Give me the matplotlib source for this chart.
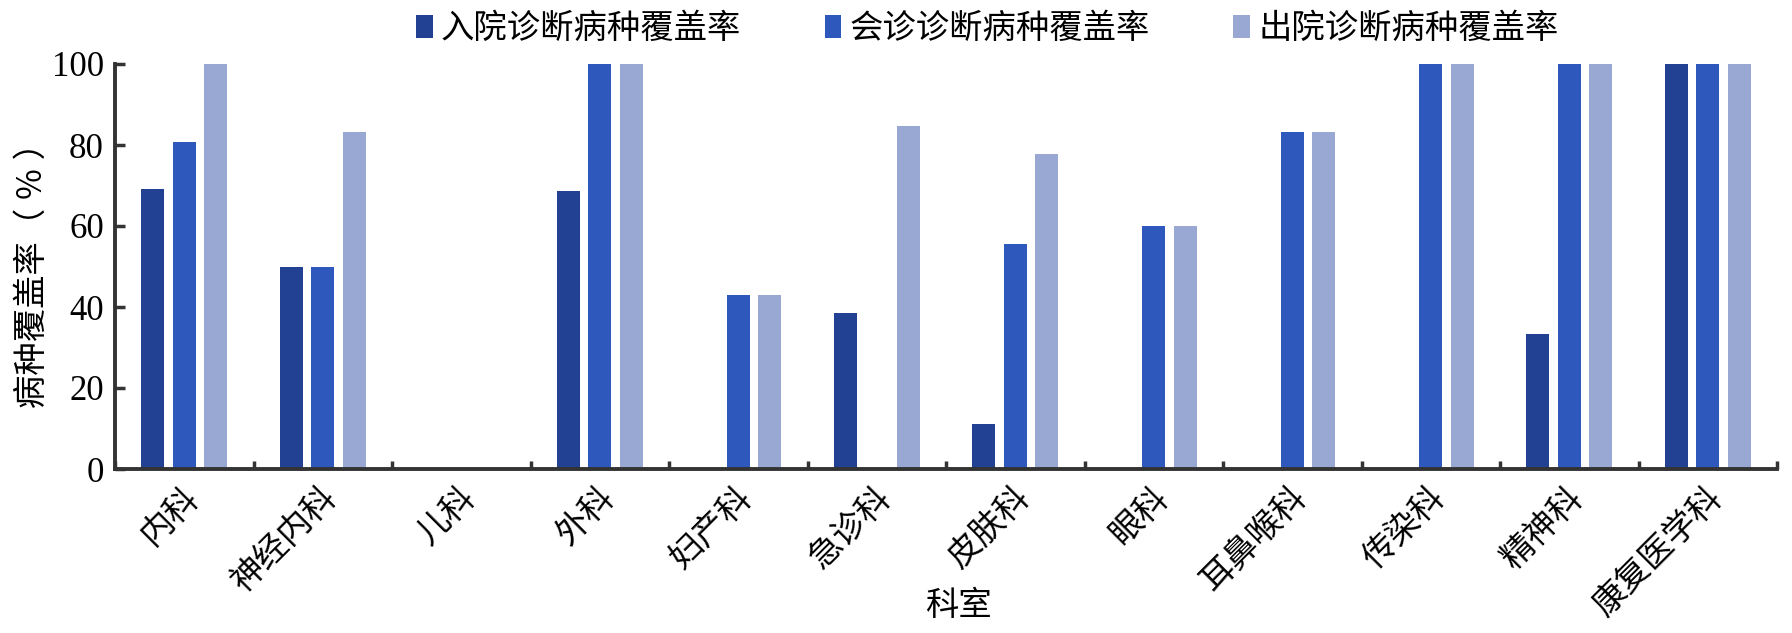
import numpy as np
import matplotlib
matplotlib.use('Agg')
import matplotlib.pyplot as plt
import matplotlib.transforms as mtransforms

plt.rcParams['font.family'] = ['Noto Sans CJK SC', 'DejaVu Sans']

# 数据
departments = ['内科', '神经内科', '儿科', '外科', '妇产科', '急诊科',
               '皮肤科', '眼科', '耳鼻喉科', '传染科', '精神科', '康复医学科']
admission = [69.2, 50.0, 0, 68.6, 0, 38.5, 11.1, 0, 0, 0, 33.3, 100]
consult = [80.8, 50.0, 0, 100, 42.9, 0, 55.6, 60.0, 83.3, 100, 100, 100]
discharge = [100, 83.3, 0, 100, 42.9, 84.6, 77.8, 60.0, 83.3, 100, 100, 100]
series_names = ['入院诊断病种覆盖率', '会诊诊断病种覆盖率', '出院诊断病种覆盖率']
colors = ['#234193', '#2e58bb', '#99a7d3']

fig = plt.figure(figsize=(17.92, 6.33), dpi=100)
ax = fig.add_axes([115 / 1792, 1 - 469 / 633, 1662 / 1792, (469 - 64) / 633])

x = np.arange(len(departments))
step = 0.227
width = 0.166
for k, vals in enumerate([admission, consult, discharge]):
    ax.bar(x + (k - 1) * step, vals, width=width, color=colors[k],
           label=series_names[k], zorder=2)

ax.set_xlim(-0.5, len(departments) - 0.5)
ax.set_ylim(0, 100)

for s in ['top', 'right']:
    ax.spines[s].set_visible(False)
for s in ['left', 'bottom']:
    ax.spines[s].set_linewidth(2.8)
    ax.spines[s].set_color('#333333')
    ax.spines[s].set_zorder(3)

ax.set_yticks([0, 20, 40, 60, 80, 100])
ax.set_yticklabels(['0', '20', '40', '60', '80', '100'],
                   family='Liberation Serif', fontsize=25)
ax.tick_params(axis='y', direction='in', length=7, width=2.5, color='#333333', pad=8)

# 分类刻度在类别之间
ax.set_xticks(np.arange(len(departments) + 1) - 0.5)
ax.set_xticklabels([])
ax.tick_params(axis='x', direction='in', length=6, width=2.5, color='#333333')

offset = mtransforms.ScaledTranslation(9 / 100, -23 / 100, fig.dpi_scale_trans)
for i, name in enumerate(departments):
    ax.text(i, 0, name, rotation=45, ha='right', va='center',
            rotation_mode='anchor', fontsize=24,
            transform=ax.get_xaxis_transform() + offset)

fig.text(958 / 1792, 1 - 606 / 633, '科室', ha='center', va='center', fontsize=24)
ax.set_ylabel('病种覆盖率（ ％ ）', fontsize=24)
ax.yaxis.set_label_coords(-0.039, 0.50)

fig.legend(loc='center', bbox_to_anchor=(0.551, 0.955), ncol=3, frameon=False,
           fontsize=24, handlelength=0.5, handleheight=0.67, handletextpad=0.25,
           columnspacing=2.5)

plt.savefig('out.png', dpi=100)
